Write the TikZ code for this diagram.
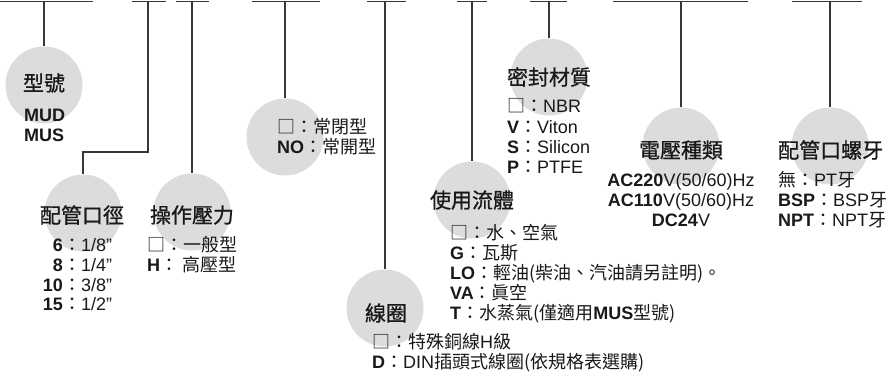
\documentclass[tikz,border=0pt]{standalone}
\usepackage{fontspec}
\setmainfont{Liberation Sans}
\newfontfamily\cjkv{Noto Sans CJK TC}
\newfontfamily\cjkh{Noto Sans CJK TC}[FakeBold=0.8]
\newcommand{\cj}[1]{{\cjkv #1}}
\definecolor{circfill}{RGB}{220,220,220}
\definecolor{linec}{RGB}{55,55,55}
\definecolor{txt}{RGB}{25,25,25}
\tikzset{
  bubble/.style={circle, fill=circfill, minimum size=77pt, inner sep=0pt},
  lead/.style={draw=linec, line width=1.6pt},
  head/.style={font=\cjkh\fontsize{21}{24}\selectfont, text=txt, inner sep=0pt},
  val/.style={font=\fontsize{18}{20}\selectfont, text=txt, inner sep=0pt, anchor=base west},
}
\begin{document}
\begin{tikzpicture}[x=1pt,y=-1pt]
\useasboundingbox (0,0) rectangle (890,372);
% circles
\node[bubble] (c1) at (44,85) {};
\node[bubble] (c2) at (83,213) {};
\node[bubble] (c3) at (192,212) {};
\node[bubble] (c4) at (285,137) {};
\node[bubble] (c5) at (385,308) {};
\node[bubble] (c6) at (472,200) {};
\node[bubble] (c7) at (549,77) {};
\node[bubble] (c8) at (681,146) {};
\node[bubble] (c9) at (830,146) {};
% top bars
\coordinate (b1l) at (0,1.5);   \coordinate (b1r) at (93,1.5);  \coordinate (b1m) at (44,1.5);
\coordinate (b2l) at (132,1.5); \coordinate (b2r) at (166,1.5); \coordinate (b2m) at (148,1.5);
\coordinate (b2k) at (148,152);
\coordinate (b3l) at (176,1.5); \coordinate (b3r) at (209,1.5); \coordinate (b3m) at (192,1.5);
\coordinate (b4l) at (252,1.5); \coordinate (b4r) at (320,1.5); \coordinate (b4m) at (285,1.5);
\coordinate (b5l) at (367,1.5); \coordinate (b5r) at (406,1.5); \coordinate (b5m) at (385,1.5);
\coordinate (b6l) at (457,1.5); \coordinate (b6r) at (487,1.5); \coordinate (b6m) at (472,1.5);
\coordinate (b7l) at (530,1.5); \coordinate (b7r) at (567,1.5); \coordinate (b7m) at (549,1.5);
\coordinate (b8l) at (613,1.5); \coordinate (b8r) at (748,1.5); \coordinate (b8m) at (681,1.5);
\coordinate (b9l) at (792,1.5); \coordinate (b9r) at (862,1.5); \coordinate (b9m) at (830,1.5);
\foreach \i in {1,...,9}{\draw[lead] (b\i l) -- (b\i r);}
\draw[lead] (b1m) -- (c1.north);
\draw[lead] (b2m) -- (b2k) -| (c2.north);
\draw[lead] (b3m) -- (c3.north);
\draw[lead] (b4m) -- (c4.north);
\draw[lead] (b5m) -- (c5.north);
\draw[lead] (b6m) -- (c6.north);
\draw[lead] (b7m) -- (c7.north);
\draw[lead] (b8m) -- (c8.north);
\draw[lead] (b9m) -- (c9.north);
% headers
\node[head] (h1) at (44,83) {型號};
\node[head] (h2) at (82,215) {配管口徑};
\node[head] (h3) at (192,215) {操作壓力};
\node[head] (h5) at (386,313) {線圈};
\node[head] (h6) at (472,200) {使用流體};
\node[head] (h7) at (549,77) {密封材質};
\node[head] (h8) at (681,150) {電壓種類};
\node[head, anchor=west] (h9) at (778,150) {配管口螺牙};
% type values
\node[val] (t1a) at (24,121.5) {\textbf{MUD}};
\node[val] (t1b) at (24,141.5) {\textbf{MUS}};
% pipe size values
\node[val, anchor=base east] (t2a) at (63,251.5) {\textbf{6}};
\node[val] (t2aa) at (63,251.5) {\cj{：}1/8"};
\node[val, anchor=base east] (t2b) at (63,271.5) {\textbf{8}};
\node[val] (t2bb) at (63,271.5) {\cj{：}1/4"};
\node[val, anchor=base east] (t2c) at (63,291.5) {\textbf{10}};
\node[val] (t2cc) at (63,291.5) {\cj{：}3/8"};
\node[val, anchor=base east] (t2d) at (63,310.5) {\textbf{15}};
\node[val] (t2dd) at (63,310.5) {\cj{：}1/2"};
% pressure values
\node[val] (t3a) at (147,251.5) {\cj{□：一般型}};
\node[val] (t3b) at (147,271.5) {\textbf{H}\cj{：}\hspace{4pt}\cj{高壓型}};
% normally closed / open
\node[val] (t4a) at (277,133.5) {\cj{□：常閉型}};
\node[val] (t4b) at (277,153.5) {\textbf{NO}\cj{：常開型}};
% coil values
\node[val] (t5a) at (372,348.5) {\cj{□：特殊銅線}H\cj{級}};
\node[val] (t5b) at (372,368.5) {\textbf{D}\cj{：}DIN\cj{插頭式線圈(依規格表選購)}};
% fluid values
\node[val] (t6a) at (450,239.5) {\cj{□：水、空氣}};
\node[val] (t6b) at (450,259.5) {\textbf{G}\cj{：瓦斯}};
\node[val] (t6c) at (450,279.5) {\textbf{LO}\cj{：輕油(柴油、汽油請另註明)。}};
\node[val] (t6d) at (450,299.5) {\textbf{VA}\cj{：眞空}};
\node[val] (t6e) at (450,319.5) {\textbf{T}\cj{：水蒸氣(僅適用}\textbf{MUS}\cj{型號)}};
% seal values
\node[val] (t7a) at (507,112.5) {\cj{□：}NBR};
\node[val] (t7b) at (507,133.5) {\textbf{V}\cj{：}Viton};
\node[val] (t7c) at (507,153.5) {\textbf{S}\cj{：}Silicon};
\node[val] (t7d) at (507,173.5) {\textbf{P}\cj{：}PTFE};
% voltage values
\node[val, anchor=base] (t8a) at (681,186.5) {\textbf{AC220}V(50/60)Hz};
\node[val, anchor=base] (t8b) at (681,206.5) {\textbf{AC110}V(50/60)Hz};
\node[val, anchor=base] (t8c) at (681,226.5) {\textbf{DC24}V};
% thread values
\node[val] (t9a) at (778,186.5) {\cj{無：}PT\cj{牙}};
\node[val] (t9b) at (778,206.5) {\textbf{BSP}\cj{：}BSP\cj{牙}};
\node[val] (t9c) at (778,226.5) {\textbf{NPT}\cj{：}NPT\cj{牙}};
\end{tikzpicture}
\end{document}
